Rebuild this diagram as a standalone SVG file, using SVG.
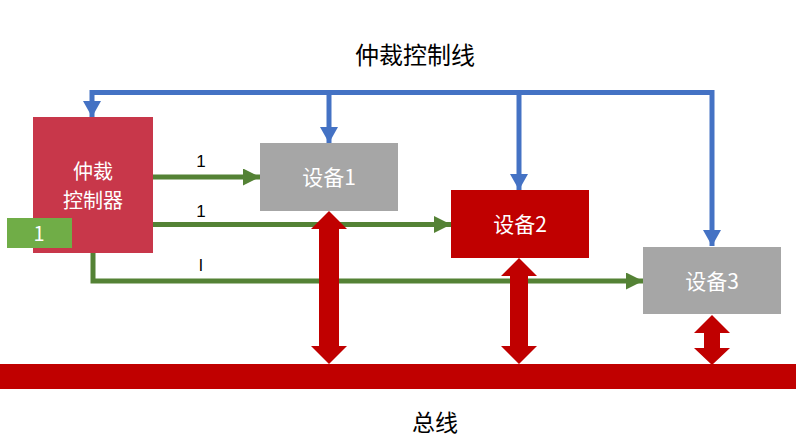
<svg xmlns="http://www.w3.org/2000/svg" width="796" height="447" viewBox="0 0 796 447">
<defs>
<style>
text{font-family:"Noto Sans CJK SC","Liberation Sans",sans-serif;}
.wt{fill:#fff;font-size:21px;text-anchor:middle;}
.ct{fill:#fff;font-size:20px;text-anchor:middle;}
.lbl{fill:#000;font-size:17px;text-anchor:middle;font-family:"Liberation Sans",sans-serif;}
.blue{fill:none;stroke:#4472C4;stroke-width:5;marker-end:url(#ab);}
.green{fill:none;stroke:#548235;stroke-width:5;marker-end:url(#ag);}
.bus{fill:#C00000;}
</style>
<marker id="ab" markerUnits="userSpaceOnUse" markerWidth="18" markerHeight="18" viewBox="0 0 16 18" refX="16" refY="9" orient="auto">
<path d="M0,0 L16,9 L0,18 Z" fill="#4472C4"/>
</marker>
<marker id="ag" markerUnits="userSpaceOnUse" markerWidth="17" markerHeight="17" viewBox="0 0 17 17" refX="17" refY="8.5" orient="auto">
<path d="M0,0 L17,8.5 L0,17 Z" fill="#548235"/>
</marker>
</defs>
<rect width="796" height="447" fill="#fff"/>
<text x="415" y="64" font-size="24" text-anchor="middle" fill="#000">仲裁控制线</text>
<text x="435" y="431" font-size="23" text-anchor="middle" fill="#000">总线</text>
<g id="bus"><rect class="bus" x="0" y="364" width="796" height="25"/></g>
<g id="connectors">
<path class="blue" d="M712,92.5 H92 V117"/>
<path class="blue" d="M329,92.5 V143"/>
<path class="blue" d="M519,92.5 V190"/>
<path class="blue" d="M712,90 V246"/>
<path class="green" d="M153,177 H260"/>
<path class="green" d="M153,224.5 H451"/>
<path class="green" d="M93,252 V281 H643"/>
<polygon class="bus" points="329,211 347,229 339,229 339,346 347,346 329,364 311,346 319,346 319,229 311,229"/>
<polygon class="bus" points="519,258 537,276 528,276 528,346 537,346 519,364 501,346 510,346 510,276 501,276"/>
<polygon class="bus" points="712,315 730,333 720,333 720,348 730,348 712,365 694,348 704,348 704,333 694,333"/>
<text class="lbl" x="201" y="167">1</text>
<text class="lbl" x="201" y="217">1</text>
<text class="lbl" x="201" y="271">l</text>
</g>
<g id="controller">
<rect x="33" y="117" width="120" height="136" fill="#C8374A"/>
<text class="ct" x="93" y="179">仲裁</text>
<text class="ct" x="93" y="208">控制器</text>
</g>
<g id="tag1">
<rect x="7" y="218" width="65" height="30" fill="#70AD47"/>
<text x="39" y="241" font-size="20" fill="#fff" text-anchor="middle" font-family="Liberation Sans, sans-serif">1</text>
</g>
<g id="device1">
<rect x="260" y="143" width="138" height="68" fill="#A6A6A6"/>
<text class="wt" x="329" y="185">设备1</text>
</g>
<g id="device2">
<rect x="451" y="190" width="138" height="68" fill="#C00000"/>
<text class="wt" x="520" y="232">设备2</text>
</g>
<g id="device3">
<rect x="643" y="247" width="138" height="67" fill="#A6A6A6"/>
<text class="wt" x="712" y="289">设备3</text>
</g>
</svg>
